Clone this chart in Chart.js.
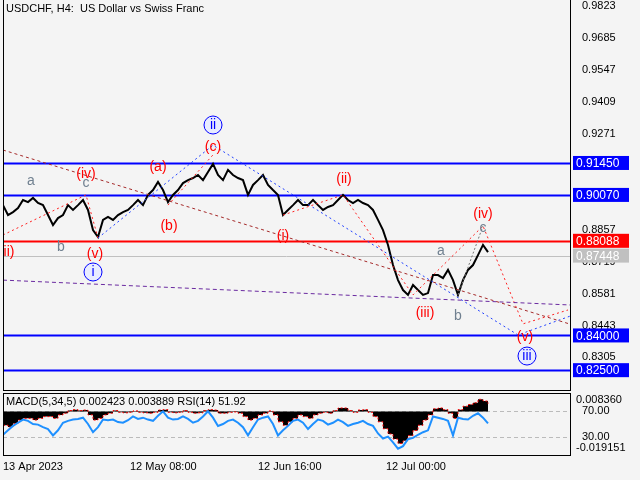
<!DOCTYPE html>
<html><head><meta charset="utf-8">
<script src="https://cdn.jsdelivr.net/npm/chart.js@4.4.0/dist/chart.umd.min.js"></script>
<style>
body{margin:0;background:#f4f4f4;width:640px;height:480px;overflow:hidden;position:relative;font-family:"Liberation Sans",sans-serif}
#w1{position:absolute;left:0;top:0;width:640px;height:391px}
#w2{position:absolute;left:0;top:391px;width:640px;height:89px}
</style></head><body>
<div id="w1"><canvas id="c1"></canvas></div>
<div id="w2"><canvas id="c2"></canvas></div>
<script>
const closePrices=[.8963,.8920,.8933,.8950,.8985,.8976,.8994,.8972,.8963,.8920,.8877,.8907,.8920,.8963,.8942,.8963,.8985,.8942,.8855,.8825,
.8899,.8912,.8899,.8920,.8933,.8942,.8963,.8985,.8963,.9007,.9028,.9063,.9028,.8976,.9007,.9028,.9058,.9071,.9080,.9093,
.9071,.9106,.9141,.9093,.9071,.9115,.9093,.9080,.9071,.9007,.9050,.9071,.9093,.9050,.9028,.9007,.8920,.8942,.8963,.8985,
.8963,.8963,.8985,.8963,.8942,.8955,.8963,.8985,.9007,.8985,.8972,.8985,.8972,.8963,.8942,.8899,.8855,.8791,.8704,.8639,
.8596,.8575,.8618,.8596,.8575,.8583,.8661,.8661,.8648,.8683,.8639,.8575,.8639,.8683,.8704,.8747,.8791,.8760];
const rsiValues=[33,40,47,52,57,55,50,49,45,42,32,40,52,55,57,58,60,50,37,45,57,56,57,53,52,56,62,58,60,57,55,63,70,60,57,58,62,58,52,55,
62,70,60,47,50,55,57,52,45,32,45,57,60,62,50,32,40,47,55,57,52,42,50,57,55,49,52,57,53,47,50,52,55,50,47,35,27,30,21,11,
15,26,28,33,37,40,62,60,58,55,32,60,58,57,63,67,60,51];
const macdValues=[-.008,-.009,-.007,-.005,-.004,-.004,-.005,-.004,-.003,-.003,-.004,-.002,-.001,.0005,.001,.0005,.0008,-.002,-.005,-.004,
-.002,-.001,.0005,-.0005,-.0008,-.0005,.0003,-.0005,-.0008,-.001,-.0005,.0008,.001,-.0005,-.0008,-.0005,.0005,-.0005,-.001,-.0008,
.0005,.001,.0008,-.001,-.001,-.0005,-.0003,-.001,-.003,-.005,-.004,-.002,-.001,.0003,-.002,-.006,-.008,-.006,-.004,-.002,
-.003,-.004,-.002,-.001,-.0005,-.001,.0005,.002,.002,.0005,-.0005,.0008,.001,-.0005,-.003,-.006,-.01,-.013,-.016,-.0185,
-.017,-.014,-.011,-.008,-.005,-.002,.0015,.002,.001,-.001,-.004,.001,.003,.004,.005,.007,.006,.0045];
const priceTicks=[0.9823,0.9685,0.9547,0.9409,0.9271,0.9133,0.8995,0.8857,0.8719,0.8581,0.8443,0.8305];
const blueLevels=[0.9145,0.9007,0.8400,0.8250];
const redLevel=0.88088, greyLevel=0.87448;
const dateTicks=[0,25.4,51,76.6];
const dateLabels=["13 Apr 2023","12 May 08:00","12 Jun 16:00","12 Jul 00:00"];
const brownLine=[{x:0,y:.9201},{x:114,y:.8445}];
const purpleLine=[{x:0,y:.8639},{x:114,y:.8531}];
const blueWave=[{x:19,y:.8821},{x:42,y:.9222},{x:103,y:.8402},{x:114,y:.8488}];
const redWaves=[[{x:0,y:.8834},{x:16.6,y:.9007},{x:19,y:.8821}],[{x:33,y:.8963},{x:42,y:.9180}],[{x:56,y:.8920},{x:68,y:.9007},{x:82,y:.8575},{x:96,y:.8873},{x:104,y:.8450},{x:113,y:.8510}]];
const greyWave=[{x:91,y:.8575},{x:96,y:.8873}];
const waveLabels=[["a",5.6,.9067,"g"],["c",16.6,.9058,"g"],["b",11.6,.8782,"g"],["(iv)",16.6,.9097,"r"],["(v)",18.4,.8752,"r"],["i",18,.8674,"B"],
["ii)",1.2,.8760,"r"],["(a)",31,.9128,"r"],["(b)",33.2,.8873,"r"],["(c)",42,.9214,"r"],["ii",42,.9309,"B"],["(i)",56,.8830,"r"],
["(ii)",68.2,.9076,"r"],["(iii)",84.4,.8497,"r"],["b",91,.8484,"g"],["a",87.6,.8765,"g"],["(iv)",96,.8925,"r"],["c",96,.8864,"g"],
["(v)",104.4,.8393,"r"],["iii",104.8,.8311,"B"]];
const FONT='"Liberation Sans",sans-serif';
const ds=(d,c,dash,w)=>({data:d,borderColor:c,borderDash:dash,borderWidth:w||1,pointRadius:0,tension:0,fill:false});
const datasets=[ds(brownLine,'#a52a2a',[3,3]),ds(purpleLine,'#6a2aa0',[4,3]),ds(blueWave,'#2040ff',[2,3]),ds(greyWave,'#777',[2,2])];
redWaves.forEach(w=>datasets.push(ds(w,'#ff2020',[2,3])));
datasets.push(ds(closePrices.map((v,i)=>({x:i,y:v})),'#000',[],2));
const noPad=s=>{s.paddingTop=0;s.paddingBottom=0;s.width=70;};
const overlay={id:'ov',
 beforeDatasetsDraw(ch){const {ctx,chartArea:a,scales:{y}}=ch;ctx.save();
  const hl=(v,c,w)=>{const py=Math.round(y.getPixelForValue(v))+0.5;ctx.strokeStyle=c;ctx.lineWidth=w;ctx.beginPath();ctx.moveTo(a.left,py);ctx.lineTo(a.right,py);ctx.stroke();};
  hl(greyLevel,'#c0c0c0',1);hl(redLevel,'#ff0000',2);blueLevels.forEach(v=>hl(v,'#0000ff',2));ctx.restore();},
 afterDraw(ch){const {ctx,chartArea:a,scales:{x,y}}=ch;ctx.save();
  ctx.textAlign='center';ctx.textBaseline='middle';ctx.font='14px '+FONT;
  waveLabels.forEach(([t,i,p,c])=>{const px=x.getPixelForValue(i),py=y.getPixelForValue(p);
   if(c==='B'){ctx.beginPath();ctx.arc(px,py,9,0,7);ctx.fillStyle='#e8ecff';ctx.fill();ctx.strokeStyle='#0000ff';ctx.lineWidth=1;ctx.stroke();ctx.fillStyle='#0000ff';ctx.fillText(t,px,py);}
   else{ctx.fillStyle=c==='r'?'#ff0000':'#708090';ctx.fillText(t,px,py);}});
  const box=(v,bg,fg)=>{const py=y.getPixelForValue(v);ctx.fillStyle=bg;ctx.fillRect(a.right+3,py-7,56,14);ctx.fillStyle=fg;ctx.font='12px '+FONT;ctx.textAlign='left';ctx.fillText(v.toFixed(5),a.right+6,py+1);};
  blueLevels.forEach(v=>box(v,'#0000ff','#fff'));box(redLevel,'#ff0000','#fff');box(greyLevel,'#c0c0c0','#fff');
  ctx.fillStyle='#000';ctx.font='11px '+FONT;ctx.textAlign='left';ctx.fillText('USDCHF, H4:  US Dollar vs Swiss Franc',a.left+3,9);
  ctx.strokeStyle='#000';ctx.lineWidth=1;ctx.strokeRect(a.left+0.5,-1,a.width,a.height+0.5);
  ctx.restore();}};
new Chart(document.getElementById('c1'),{type:'line',data:{datasets},
 options:{responsive:true,maintainAspectRatio:false,animation:false,layout:{padding:{left:3}},
  plugins:{legend:{display:false},tooltip:{enabled:false}},
  scales:{x:{type:'linear',min:0,max:113.4,display:false},
   y:{position:'right',min:0.8160,max:0.9849,afterFit:noPad,afterBuildTicks(s){s.ticks=priceTicks.map(v=>({value:v}))},
    grid:{display:false},border:{color:'#000'},ticks:{color:'#000',font:{size:11,family:FONT},padding:4,callback:v=>v.toFixed(4)}}}},
 plugins:[overlay]});
const sub={id:'sub',
 beforeDatasetsDraw(ch){const {ctx,chartArea:a,scales:{yr}}=ch;ctx.save();ctx.strokeStyle='#bbb';ctx.setLineDash([4,3]);
  [70,30].forEach(v=>{const py=Math.round(yr.getPixelForValue(v))+0.5;ctx.beginPath();ctx.moveTo(a.left,py);ctx.lineTo(a.right,py);ctx.stroke();});ctx.restore();},
 afterDraw(ch){const {ctx,chartArea:a}=ch;ctx.save();ctx.fillStyle='#000';ctx.font='11px '+FONT;ctx.textBaseline='middle';
  ctx.fillText('MACD(5,34,5) 0.002423 0.003889 RSI(14) 51.92',a.left+3,a.top+9);
  ctx.fillText('0.008360',a.right+6,a.top+7);ctx.fillText('-0.019151',a.right+6,a.bottom-7);
  ctx.strokeStyle='#000';ctx.strokeRect(a.left+0.5,a.top+0.5,a.width,a.height);ctx.restore();}};
new Chart(document.getElementById('c2'),{type:'line',data:{datasets:[
  {data:rsiValues.map((v,i)=>({x:i,y:v})),yAxisID:'yr',borderColor:'#1e90ff',borderWidth:2,pointRadius:0,tension:0,fill:false},
  {data:macdValues.map((v,i)=>({x:i,y:v})),yAxisID:'ym',borderColor:'#ff0000',borderDash:[2,2],borderWidth:1,backgroundColor:'#000',fill:'origin',stepped:true,pointRadius:0}]},
 options:{responsive:true,maintainAspectRatio:false,animation:false,layout:{padding:{left:3,top:2}},
  plugins:{legend:{display:false},tooltip:{enabled:false}},
  scales:{x:{type:'linear',min:0,max:113.4,afterFit(s){s.height=25},afterBuildTicks(s){s.ticks=dateTicks.map(v=>({value:v}))},
    grid:{display:false,tickLength:4},border:{color:'#000'},ticks:{color:'#000',font:{size:11,family:FONT},align:'start',maxRotation:0,padding:1,callback:(v,i)=>dateLabels[i]}},
   yr:{type:'linear',position:'right',min:1,max:99,afterFit:noPad,afterBuildTicks(s){s.ticks=[{value:70},{value:30}]},
    grid:{display:false},border:{color:'#000'},ticks:{color:'#000',font:{size:11,family:FONT},padding:4,callback:v=>v.toFixed(2)}},
   ym:{type:'linear',display:false,min:-0.0252,max:0.01066}}},
 plugins:[sub]});
</script></body></html>
